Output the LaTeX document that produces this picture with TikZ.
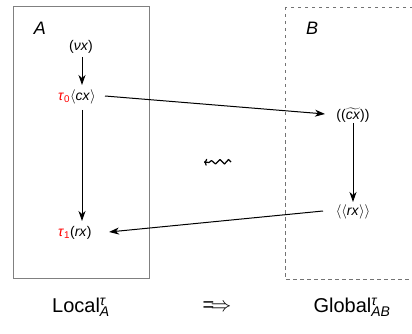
\documentclass[tikz,border=0pt]{standalone}
\usepackage{amsmath,amssymb,graphicx}
\usepackage{fontspec}
\setmainfont{Liberation Sans}
\usetikzlibrary{arrows.meta}
\newcommand{\mi}[1]{\textit{#1}}
\newcommand{\supsub}[2]{\rlap{\textsuperscript{\mi{#1}}}\textsubscript{\mi{#2}}}
\begin{document}
\begin{tikzpicture}[x=1pt,y=-1pt,
  lbl/.style={font=\fontsize{14}{16}\selectfont, inner sep=0pt},
  boxlbl/.style={font=\fontsize{18}{20}\selectfont\itshape},
  bot/.style={font=\fontsize{20}{22}\selectfont},
  arr/.style={-{Stealth[length=10pt,width=7pt,inset=3pt]}, line width=1pt},
  sqarr/.style={-{To[length=3pt,width=7pt]}, line width=1.2pt, line join=round},
  frameA/.style={draw=black!50, line width=1pt},
  frameB/.style={draw=black!55, line width=0.9pt, dash pattern=on 3.5pt off 3.5pt}]
\useasboundingbox (0,0) rectangle (412,334);
\path[frameA] (13,7) rectangle (149,278);
\path[frameB] (285,7) rectangle (420,279);
\node[boxlbl] (la) at (40,28) {A};
\node[boxlbl] (lb) at (312,28) {B};
\node[lbl] (nu) at (81,47) {(\mi{νx})};
\node[lbl, anchor=west] (t0) at (58,97) {\textcolor{red}{\mi{τ}\textsubscript{0}}$\langle$\mi{cx}$\rangle$};
\node[lbl, anchor=west] (t1) at (58,233) {\textcolor{red}{\mi{τ}\textsubscript{1}}(\mi{rx})};
\node[lbl] (c) at (353,115) {(($\widetilde{\mbox{\mi{cx}}}$))};
\node[lbl] (rr) at (353,212) {$\langle\langle$\mi{rx}$\rangle\rangle$};
\coordinate (nuS) at (82,57);
\coordinate (t0N) at (82,85);
\coordinate (t0S) at (82,110);
\coordinate (t1N) at (82,221);
\coordinate (t0E) at (105,96);
\coordinate (cW) at (325,114);
\coordinate (cS) at (353,123);
\coordinate (rrN) at (353,202);
\coordinate (rrW) at (323,211);
\coordinate (t1E) at (109,232);
\draw[arr] (nuS) -- (t0N);
\draw[arr] (t0S) -- (t1N);
\draw[arr] (t0E) -- (cW);
\draw[arr] (cS) -- (rrN);
\draw[arr] (rrW) -- (t1E);
\coordinate (sqR) at (231,162);
\coordinate (sqL) at (204,162);
\draw[sqarr] (sqR) -- (228.5,159.5) -- (224.5,164) -- (220,159.5) -- (215.5,164) -- (211.5,160.5) -- (209,162.5) -- (sqL);
\node[bot] (loc) at (81,307) {Local\supsub{τ}{A}};
\node[bot] (imp) at (217,307) {$\Longrightarrow$};
\node[bot] (glo) at (352,307) {Global\supsub{τ}{AB}};
\end{tikzpicture}
\end{document}
